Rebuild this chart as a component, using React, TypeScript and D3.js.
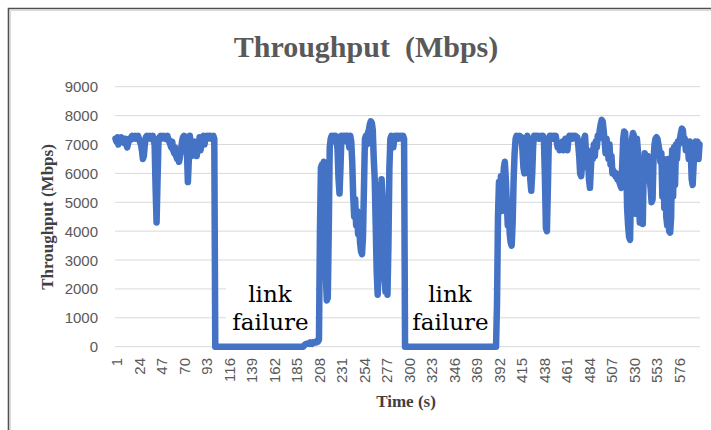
import React from "react";
import * as d3 from "d3";

// time axis: one category per second, 1..598
const timeCategories = d3.range(1, 599);

// category labels Excel printed (every 23rd)
const tickLabels = [
  1, 24, 47, 70, 93, 116, 139, 162, 185, 208, 231, 254, 277, 300, 323, 346,
  369, 392, 415, 438, 461, 484, 507, 530, 553, 576,
];

const yTicks = [0, 1000, 2000, 3000, 4000, 5000, 6000, 7000, 8000, 9000];

// throughput before the first link failure (t = 1..102)
const phaseBefore = [
  7200, 7100, 7250, 7000, 7200, 7150, 7250, 7100, 7200, 7050, 7200,
  7000, 6900, 7050, 7200, 7150, 7250, 7300,
  7200, 7250, 7300, 7200, 7250, 7300, 7200, 7100,
  7000, 6800, 6500, 6600, 7000, 7250,
  7300, 7200, 7250, 7300, 7200, 7250, 7300, 7150, 7000,
  5500, 4300, 5800, 7200,
  7250, 7300, 7200, 7250, 7300, 7250, 7200, 7250, 7300, 7200, 7100,
  7000, 6900, 7100, 6800, 6700, 6900, 6600, 6500, 6700, 6400, 6600,
  6800, 7100, 7250, 7300,
  7200, 7000, 6800, 5700, 6500,
  7300, 7000, 6600, 6700, 6900, 7100, 6800, 6600, 6900, 7000, 7250,
  6800, 7100, 7200, 7300, 7000, 7250, 7300, 7200, 7300, 7250, 7300, 7200, 7250, 7300, 7200,
];

// first link failure (t = 103..209)
const outage1 = [
  0, 0, 0, 0, 0, 0, 0, 0, 0, 0,
  0, 0, 0, 0, 0, 0, 0, 0, 0, 0,
  0, 0, 0, 0, 0, 0, 0, 0, 0, 0,
  0, 0, 0, 0, 0, 0, 0, 0, 0, 0,
  0, 0, 0, 0, 0, 0, 0, 0, 0, 0,
  0, 0, 0, 0, 0, 0, 0, 0, 0, 0,
  0, 0, 0, 0, 0, 0, 0, 0, 0, 0,
  0, 0, 0, 0, 0, 0, 0, 0, 0, 0,
  0, 0, 0, 0, 0, 0, 0, 0, 0, 0,
  0, 50, 80, 100, 100, 120, 100, 150, 130, 100, 150, 150, 170, 150, 200, 180, 250,
];

// recovery between the failures (t = 210..296)
const phaseMid = [
  4000, 6200, 6300, 6100, 6400, 6300, 2500, 1600, 1700, 4000,
  6900, 7200, 7300, 7100, 7300, 7200, 7300, 7250, 6800, 5800,
  5300, 6200, 7300, 7200, 7300, 7250, 7300, 7100, 7300, 7200,
  6900, 7300, 7100, 6400, 5200, 4500, 5100, 4200, 4700, 3900,
  4400, 3600, 3300, 3200, 3800, 5500, 7200, 7300, 7000, 7400,
  7500, 7700, 7800, 7750, 7500, 6500, 5800, 4200, 2600, 1800,
  2700, 5600, 4600, 5800, 5200, 3600, 2400, 1900, 2800, 1800,
  3500, 6200, 7200, 7300, 7100, 6900, 7200, 7300, 7250, 7300,
  7200, 7300, 7250, 7300, 7200, 7300, 7200,
];

// second link failure (t = 297..390)
const outage2 = [
  0, 0, 0, 0, 0, 0, 0, 0, 0, 0,
  0, 0, 0, 0, 0, 0, 0, 0, 0, 0,
  0, 0, 0, 0, 0, 0, 0, 0, 0, 0,
  0, 0, 0, 0, 0, 0, 0, 0, 0, 0,
  0, 0, 0, 0, 0, 0, 0, 0, 0, 0,
  0, 0, 0, 0, 0, 0, 0, 0, 0, 0,
  0, 0, 0, 0, 0, 0, 0, 0, 0, 0,
  0, 0, 0, 0, 0, 0, 0, 0, 0, 0,
  0, 0, 0, 0, 0, 0, 0, 0, 0, 0,
  0, 0, 0, 0,
];

// after the second failure (t = 391..598)
const phaseAfter = [
  1500, 4500, 5700, 4800, 5900, 4700, 5600, 6200, 6400, 5800,
  5000, 4200, 4800, 3900, 3600, 3500, 4300, 5800, 6700, 7200,
  7300, 7200, 7250, 7300, 7200, 7250, 6800, 6200, 6000, 6600,
  7200, 7300, 7200, 6500, 5800, 5400, 6000, 7000, 7300, 7200,
  7300, 7250, 7300, 7200, 7250, 7300, 7200, 7300, 7100, 5800,
  4100, 4000, 5500, 7200, 7300, 7250, 7300, 7200, 7300, 7250,
  7300, 7100, 6900, 7000, 6800, 7000, 6900, 7100, 6800, 6900,
  7200, 7000, 6800, 7200, 7300, 7250, 7300, 7200, 7300, 7250,
  7300, 7200, 7250, 7000, 6600, 6000, 5900, 6300, 7000, 7200,
  7300, 6700, 6200, 6600, 5800, 5500, 6200, 6800, 6500, 7000,
  6600, 7100, 6900, 7300, 7200, 7500, 7700, 7850, 7800, 7500,
  7100, 6700, 7200, 6900, 6500, 7000, 6300, 6600, 6000, 6100,
  6000, 5900, 6000, 5800, 5900, 5700, 5600, 5500, 6300, 7200,
  7450, 7400, 6500, 4800, 4200, 3800, 3700, 5500, 7200, 7400,
  7300, 5500, 4600, 7200, 6800, 5000, 4300, 6500, 4500, 4250,
  6200, 6700, 6500, 6000, 6600, 6300, 5800, 5500, 5000, 5100,
  6500, 7000, 7200, 7250, 7200, 7000, 6800, 6400, 6700, 5200,
  6500, 4800, 6200, 4500, 4200, 6500, 4000, 3950, 4500, 6800,
  5200, 6900, 5600, 7000, 6500, 7100, 7000, 7200, 7400, 7550,
  7500, 7100, 7200, 6800, 7100, 7000, 6500, 7100, 6800, 5800,
  5600, 6300, 7000, 7100, 6900, 7100, 6500, 7000,
];

const throughput = [...phaseBefore, ...outage1, ...phaseMid, ...outage2, ...phaseAfter];

const W = 711;
const H = 430;
const plotLeft = 115;
const plotRight = 700;
const plotTop = 86.7;
const plotBottom = 346.7;

const tickFont = "'Liberation Sans', Arial, sans-serif";
const serif = "'Liberation Serif', 'Times New Roman', serif";

export default function App() {
  const x = d3
    .scalePoint<number>()
    .domain(timeCategories)
    .range([plotLeft, plotRight])
    .padding(0.5);

  const y = d3.scaleLinear().domain([0, 9000]).range([plotBottom, plotTop]);

  const line = d3
    .line<number>()
    .x((d, i) => x(timeCategories[i]) as number)
    .y((d) => y(d));

  return (
    <svg
      width={W}
      height={H}
      style={{ position: "absolute", left: 0, top: 0, background: "#fff" }}
    >
      <rect x={0} y={0} width={W} height={H} fill="#fff" />
      {/* frame (only top and left visible in the crop) */}
      <path d={`M10.5,${H} V10.5 H${W}`} fill="none" stroke="#d9d9d9" strokeWidth={1} />
      <path d={`M8.5,${H} V8.5 H${W}`} fill="none" stroke="#505050" strokeWidth={1.6} />

      <text
        x={366}
        y={57}
        textAnchor="middle"
        fontFamily={serif}
        fontWeight="bold"
        fontSize={30}
        fill="#595959"
      >
        Throughput{"\u00a0\u00a0"}(Mbps)
      </text>

      {/* gridlines + y labels */}
      {yTicks.map((t) => (
        <g key={t}>
          <line
            x1={plotLeft}
            x2={plotRight}
            y1={y(t)}
            y2={y(t)}
            stroke="#d9d9d9"
            strokeWidth={1}
          />
          <text
            x={98}
            y={y(t)}
            textAnchor="end"
            dominantBaseline="central"
            fontFamily={tickFont}
            fontSize={15}
            fill="#595959"
          >
            {t}
          </text>
        </g>
      ))}

      {/* x labels */}
      {tickLabels.map((t) => (
        <text
          key={t}
          transform={`translate(${(x(t) as number) + 1.5},358) rotate(-90)`}
          textAnchor="end"
          dominantBaseline="central"
          fontFamily={tickFont}
          fontSize={15}
          fill="#595959"
        >
          {t}
        </text>
      ))}

      {/* annotation text boxes */}
      <rect x={226} y={279} width={89} height={63} fill="#fff" />
      <rect x={409} y={279} width={83} height={63} fill="#fff" />
      <g fontFamily="'DejaVu Serif', serif" fontSize={23} fill="#000" textAnchor="middle">
        <text x={270} y={301.7}>link</text>
        <text x={270.5} y={330}>failure</text>
        <text x={450} y={301.7}>link</text>
        <text x={450.5} y={330}>failure</text>
      </g>

      <path
        d={line(throughput) || ""}
        fill="none"
        stroke="#4472c4"
        strokeWidth={6.5}
        strokeLinejoin="round"
        strokeLinecap="round"
      />

      <text
        transform="translate(53,217) rotate(-90)"
        textAnchor="middle"
        fontFamily={serif}
        fontWeight="bold"
        fontSize={17}
        fill="#404040"
      >
        Throughput (Mbps)
      </text>
      <text
        x={406}
        y={406.7}
        textAnchor="middle"
        fontFamily={serif}
        fontWeight="bold"
        fontSize={17}
        fill="#404040"
      >
        Time (s)
      </text>
    </svg>
  );
}
